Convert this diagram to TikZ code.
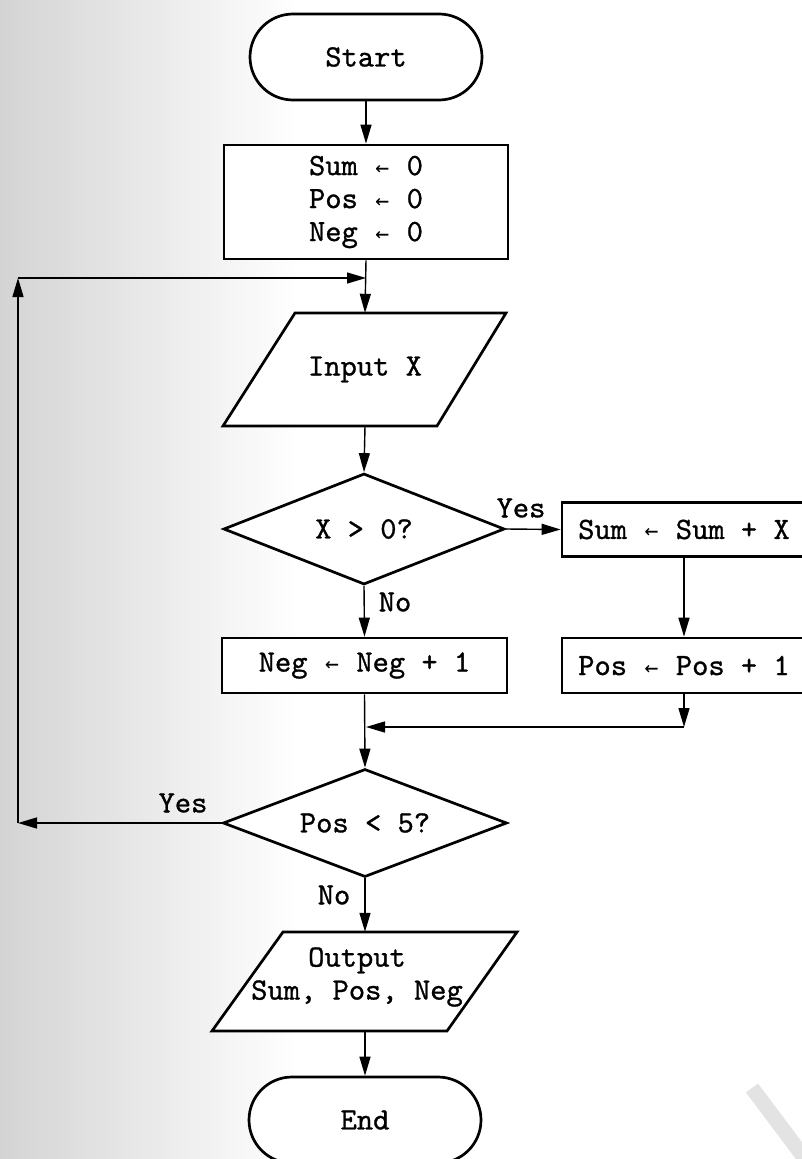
\documentclass[tikz,border=0pt]{standalone}
\usepackage{fontspec}
\setmonofont{lmmono10-regular.otf}[FakeBold=0.9]
\newfontfamily\arrowfont{DejaVu Sans Mono}
\usetikzlibrary{shapes.geometric,arrows.meta}
\newcommand\lar{\makebox[0.525em]{\arrowfont\fontsize{23}{23}\selectfont ←}}
\tikzset{
  every node/.style={font=\ttfamily\fontsize{31}{33}\selectfont},
  shp/.style={draw, line width=2.7pt, fill=white, inner sep=0pt},
  term/.style={shp, rectangle, minimum width=232pt, minimum height=86pt, rounded corners=43pt},
  proc/.style={shp, rectangle},
  dec/.style={shp, diamond, aspect=2.5},
  io/.style={inner sep=0pt},
  conn/.style={line width=1.4pt, -{Triangle[length=19pt,width=11pt]}},
  lbl/.style={inner sep=0pt},
}
\begin{document}
\begin{tikzpicture}[x=1pt,y=-1pt]
\useasboundingbox (0,0) rectangle (802,1159);
\clip (0,0) rectangle (802,1159);
% background
\fill[white] (0,0) rectangle (802,1159);
\shade[left color=black!17, right color=white] (0,0) rectangle (300,1159);
\draw[line width=15pt, black!11] (752,1088) -- (812,1168);

% shapes
\node[term] (start) at (366,57) {Start};
\node[proc, minimum width=284pt, minimum height=114pt, align=center] (init) at (366,202)
  {Sum \lar{} 0\\Pos \lar{} 0\\Neg \lar{} 0};

\draw[shp] (295,313) -- (506,313) -- (437,426) -- (223,426) -- cycle;
\node[io, minimum height=113pt] (input) at (365,369.5) {Input X};

\node[dec, minimum width=281pt, minimum height=111pt] (d1) at (364,529) {X > 0?};
\node[proc, minimum width=244pt, minimum height=54pt] (sum) at (684,529.5) {Sum \lar{} Sum + X};
\node[proc, minimum width=285pt, minimum height=55pt] (neg) at (364.5,665.5) {Neg \lar{} Neg + 1};
\node[proc, minimum width=244pt, minimum height=55pt] (pos) at (684,665.5) {Pos \lar{} Pos + 1};

\node[dec, minimum width=284pt, minimum height=108pt] (d2) at (365,823) {Pos < 5?};

\draw[shp] (283,932) -- (517,932) -- (447,1031) -- (212,1031) -- cycle;
\node[io, minimum height=99pt] (output) at (365,981.5) {};
\node[io, align=center] (outtext) at (357,977) {Output\\Sum, Pos, Neg};

\node[term] (end) at (365,1120) {End};

% coordinates
\coordinate (j1) at (366,278);
\coordinate (l1) at (18,823);
\coordinate (l2) at (18,278);
\coordinate (j2) at (684,727);
\coordinate (j3) at (366,727);

% connectors
\draw[conn] (start.south) -- (init.north);
\draw[conn] (init.south) -- (input.north);
\draw[conn] (input.south) -- (d1.north);
\draw[conn] (d1.east) -- (sum.west);
\draw[conn] (d1.south) -- (neg.north);
\draw[conn] (sum.south) -- (pos.north);
\draw[conn] (pos.south) -- (j2);
\draw[conn] (j2) -- (j3);
\draw[conn] (neg.south) -- (d2.north);
\draw[conn] (d2.west) -- (l1);
\draw[conn] (l1) -- (l2);
\draw[conn] (l2) -- (j1);
\draw[conn] (d2.south) -- (output.north);
\draw[conn] (output.south) -- (end.north);

% labels
\node[lbl] (yes1) at (521,508) {Yes};
\node[lbl] (no1) at (395,602) {No};
\node[lbl] (yes2) at (183,803) {Yes};
\node[lbl] (no2) at (334,895) {No};
\end{tikzpicture}
\end{document}
